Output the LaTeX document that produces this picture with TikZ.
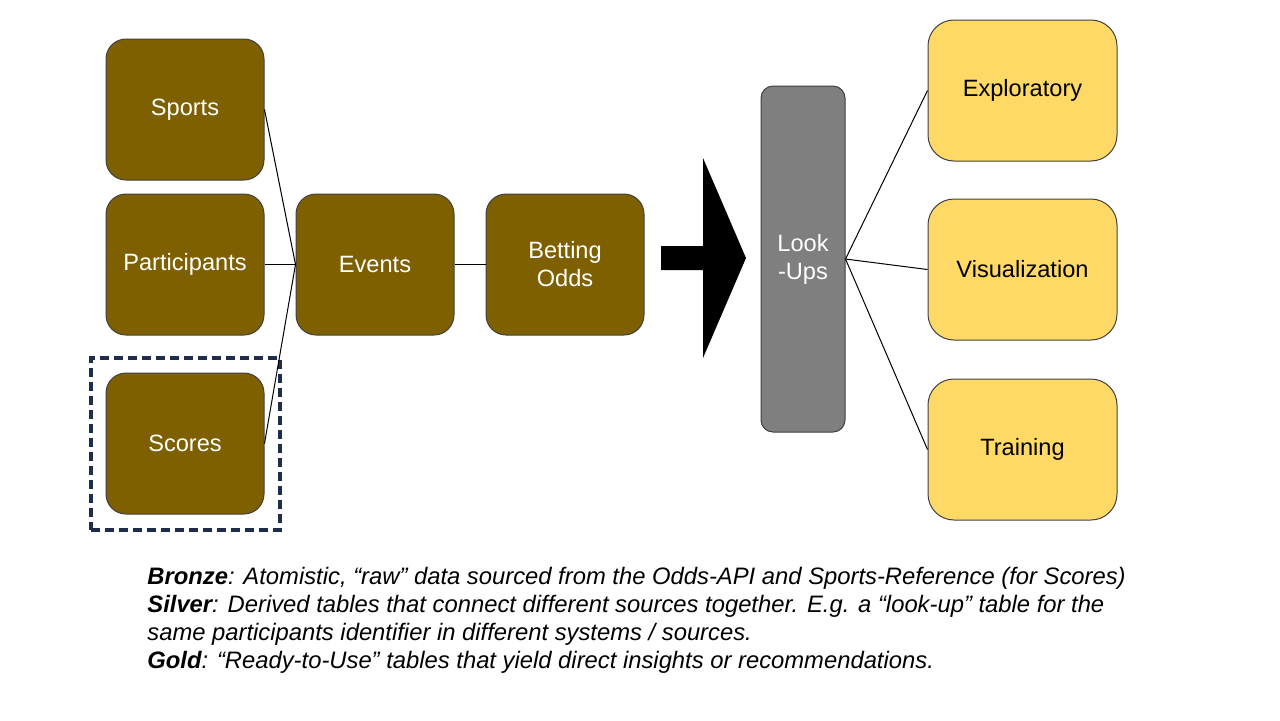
\documentclass[tikz,border=0pt]{standalone}
\usepackage{fontspec}
\setmainfont{Liberation Sans}
\usetikzlibrary{positioning,fit}
\definecolor{bronze}{HTML}{7F6000}
\definecolor{silver}{HTML}{7F7F7F}
\definecolor{gold}{HTML}{FFD966}
\definecolor{edge}{HTML}{404040}
\definecolor{navy}{HTML}{1F2D4D}

\begin{document}
\begin{tikzpicture}[x=0.5pt,y=-0.5pt,
		tbl/.style={draw=edge,line width=0.5pt,rounded corners=10pt,minimum width=79pt,minimum height=70.5pt,inner sep=0pt,align=center,font=\fontsize{11.8}{14}\selectfont},
		bronzetbl/.style={tbl,fill=bronze,text=white},
		goldtbl/.style={tbl,fill=gold,minimum width=94.5pt,rounded corners=13pt},
		link/.style={line width=0.5pt},
		node distance=6.5pt and 15.5pt]
	\useasboundingbox (0,0) rectangle (1280,720);
	\node[bronzetbl] (sports) at (185,109.5) {Sports};
	\node[bronzetbl,below=of sports] (participants) {Participants};
	\node[bronzetbl,below=18.5pt of participants] (scores) {Scores};
	\node[bronzetbl,right=of participants] (events) {Events};
	\node[bronzetbl,right=of events] (odds) {Betting\\Odds};
	\node[draw=navy,line width=2pt,dash pattern=on 4.5pt off 2.5pt,inner sep=7.5pt,fit=(scores)] (bronzebox) {};
	\fill (661,246) -- (703,246) -- (703,158) -- (746,258) -- (703,358) -- (703,270) -- (661,270) -- cycle;
	\node[tbl,fill=silver,text=white,minimum width=42pt,minimum height=173pt,rounded corners=6pt] (lookups) at (803,259) {Look\\-Ups};
	\node[goldtbl] (exploratory) at (1022.5,90.5) {Exploratory};
	\node[goldtbl,below=18.5pt of exploratory] (visualization) {Visualization};
	\node[goldtbl,below=19pt of visualization] (training) {Training};
	\draw[link] (sports.east) -- (events.west);
	\draw[link] (participants.east) -- (events.west);
	\draw[link] (scores.east) -- (events.west);
	\draw[link] (events.east) -- (odds.west);
	\draw[link] (lookups.east) -- (exploratory.west);
	\draw[link] (lookups.east) -- (visualization.west);
	\draw[link] (lookups.east) -- (training.west);
	\node[anchor=north west,align=left,inner sep=0pt,font=\fontsize{11.9}{14}\selectfont\itshape] (legend) at (147,567) {\textbf{Bronze}: Atomistic, “raw” data sourced from the Odds-API and Sports-Reference (for Scores)\\\textbf{Silver}: Derived tables that connect different sources together. E.g. a “look-up” table for the\\same participants identifier in different systems / sources.\\\textbf{Gold}: “Ready-to-Use” tables that yield direct insights or recommendations.};
\end{tikzpicture}
\end{document}
